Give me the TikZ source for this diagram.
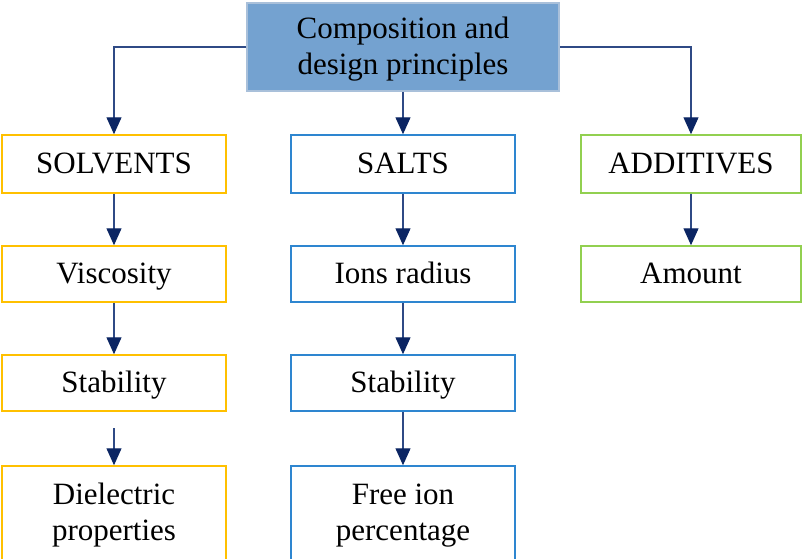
\documentclass[tikz,border=0pt]{standalone}
\usepackage{fontspec}
\setmainfont{Liberation Serif}
\usetikzlibrary{arrows.meta}
\definecolor{navy}{HTML}{0B2563}
\definecolor{linec}{HTML}{2F4A85}
\definecolor{topfill}{HTML}{74A2D0}
\definecolor{topborder}{HTML}{A9C0DA}
\definecolor{gold}{HTML}{FFC000}
\definecolor{saltblue}{HTML}{2E86D0}
\definecolor{addgreen}{HTML}{92D050}
\begin{document}
\begin{tikzpicture}[x=1pt,y=-1pt,
  box/.style={draw, line width=1.5pt, fill=white, inner sep=0pt, align=center,
    text height=22pt, text depth=4pt,
    minimum width=224pt, font=\fontsize{31}{36}\selectfont},
  twoline/.style={text height=58pt, text depth=4pt},
  solv/.style={box, draw=gold},
  salt/.style={box, draw=saltblue},
  addv/.style={box, draw=addgreen, minimum width=220pt},
  conn/.style={draw=linec, line width=1.2pt, -{Triangle[length=17pt,width=15pt,color=navy]}}]
\useasboundingbox (0,0) rectangle (802,558);
\node[box, twoline, draw=topborder, fill=topfill, minimum width=312pt, minimum height=88pt] (top) at (403,47) {Composition and\\design principles};
% row 1
\node[solv, minimum height=58pt] (s1) at (114,164) {SOLVENTS};
\node[salt, minimum height=58pt] (a1) at (403,164) {SALTS};
\node[addv, minimum height=58pt] (d1) at (691,164) {ADDITIVES};
% row 2
\node[solv, minimum height=56pt] (s2) at (114,274) {Viscosity};
\node[salt, minimum height=56pt] (a2) at (403,274) {Ions radius};
\node[addv, minimum height=56pt] (d2) at (691,274) {Amount};
% row 3
\node[solv, minimum height=56pt] (s3) at (114,383) {Stability};
\node[salt, minimum height=56pt] (a3) at (403,383) {Stability};
% row 4
\node[solv, twoline, minimum height=94pt] (s4) at (114,513) {Dielectric\\properties};
\node[salt, twoline, minimum height=94pt] (a4) at (403,513) {Free ion\\percentage};
% connectors
\draw[conn] (top.west) -| (s1.north);
\draw[conn] (top.east) -| (d1.north);
\draw[conn] (top.south) -- (a1.north);
\draw[conn] (s1.south) -- (s2.north);
\draw[conn] (a1.south) -- (a2.north);
\draw[conn] (d1.south) -- (d2.north);
\draw[conn] (s2.south) -- (s3.north);
\draw[conn] (a2.south) -- (a3.north);
\coordinate (sgap) at (114,428);
\draw[conn] (sgap) -- (s4.north);
\draw[conn] (a3.south) -- (a4.north);
\end{tikzpicture}
\end{document}
